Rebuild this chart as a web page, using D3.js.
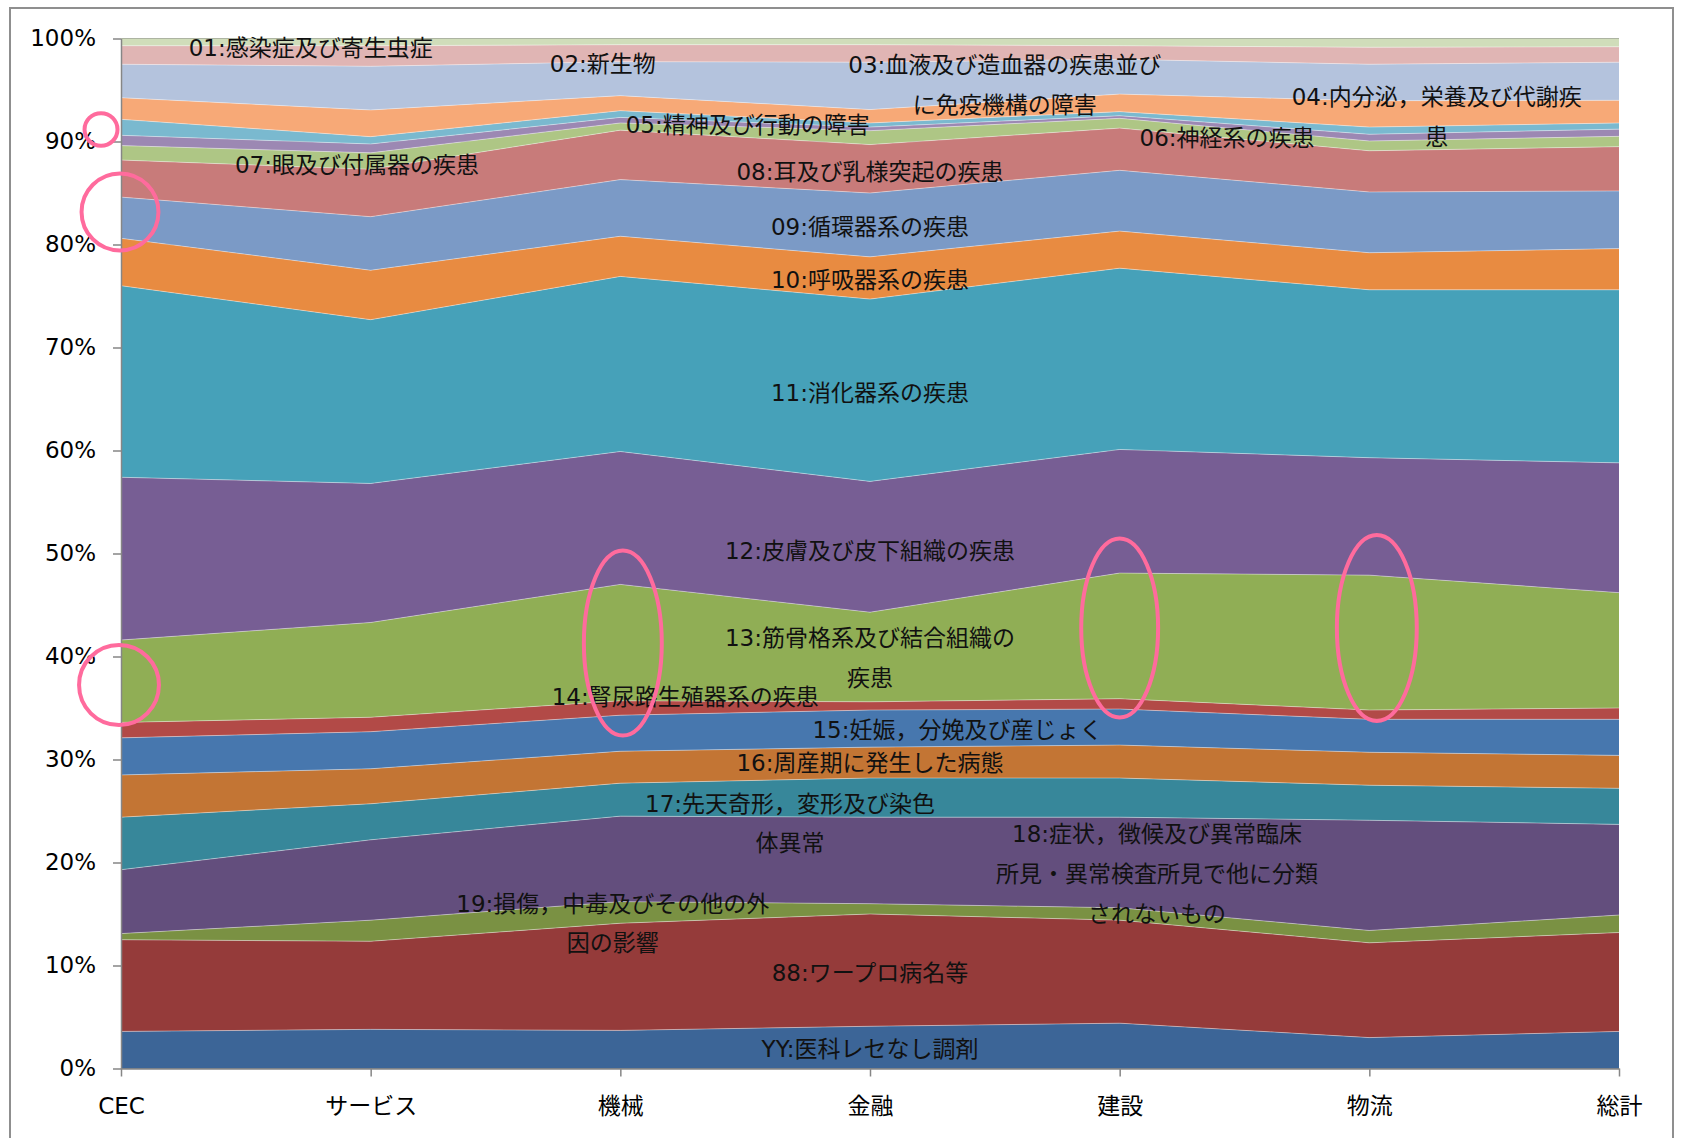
<!DOCTYPE html>
<html lang="ja">
<head>
<meta charset="utf-8">
<title>業態別 疾病分類構成比</title>
<script src="https://cdn.jsdelivr.net/npm/d3@7"></script>
<style>
  html, body { margin: 0; padding: 0; background: #ffffff; }
  svg { display: block; }
  text { font-family: "DejaVu Sans", "Noto Sans CJK JP", sans-serif; }
</style>
</head>
<body>
<svg id="chart" width="1681" height="1138"></svg>
<script>
// ---- data -------------------------------------------------------------
// Industry groups along the x axis
const categories = ["CEC", "サービス", "機械", "金融", "建設", "物流", "総計"];

// Share (%) of each disease class per group, stacked bottom → top
const vYY = [3.6, 3.8, 3.7, 4.1, 4.4, 3.0, 3.6];
const v88 = [8.9, 8.55, 10.4, 10.9, 10.0, 9.2, 9.6];
const v19 = [0.6, 2.05, 2.1, 1.0, 1.2, 1.2, 1.7];
const v18 = [6.2, 7.8, 8.3, 8.4, 8.8, 10.7, 8.8];
const v17 = [5.1, 3.5, 3.2, 3.8, 3.8, 3.4, 3.5];
const v16 = [4.1, 3.4, 3.1, 3.0, 3.2, 3.2, 3.2];
const v15 = [3.6, 3.6, 3.5, 3.6, 3.5, 3.2, 3.5];
const v14 = [1.5, 1.4, 1.4, 0.8, 1.0, 0.9, 1.1];
const v13 = [8.0, 9.2, 11.3, 8.7, 12.2, 13.1, 11.2];
const v12 = [15.8, 13.5, 12.9, 12.7, 12.0, 11.4, 12.6];
const v11 = [18.6, 15.9, 17.0, 17.7, 17.6, 16.3, 16.8];
const v10 = [4.6, 4.8, 3.9, 4.1, 3.6, 3.6, 4.0];
const v09 = [4.0, 5.2, 5.5, 6.2, 5.9, 5.9, 5.6];
const v08 = [3.6, 4.6, 4.8, 4.7, 4.1, 4.0, 4.3];
const v07 = [1.4, 1.6, 0.7, 1.35, 0.95, 0.95, 1.0];
const v06 = [1.0, 0.86, 0.54, 0.35, 0.25, 0.65, 0.7];
const v05 = [1.55, 0.71, 0.65, 0.4, 0.4, 0.7, 0.6];
const v04 = [2.1, 2.59, 1.46, 1.3, 1.7, 2.56, 2.2];
const v03 = [3.25, 4.24, 3.3, 4.6, 3.38, 3.54, 3.7];
const v02 = [1.8, 2.0, 1.65, 1.7, 1.32, 1.65, 1.5];
const v01 = [0.7, 0.7, 0.6, 0.6, 0.7, 0.85, 0.8];

const seriesKeys = ["YY", "88", "19", "18", "17", "16", "15", "14", "13", "12", "11",
                    "10", "09", "08", "07", "06", "05", "04", "03", "02", "01"];
const seriesValues = [vYY, v88, v19, v18, v17, v16, v15, v14, v13, v12, v11,
                      v10, v09, v08, v07, v06, v05, v04, v03, v02, v01];

// Series names, split into the lines they are printed on
const seriesNames = [
  ["YY:医科レセなし調剤"],
  ["88:ワープロ病名等"],
  ["19:損傷，中毒及びその他の外", "因の影響"],
  ["18:症状，徴候及び異常臨床", "所見・異常検査所見で他に分類", "されないもの"],
  ["17:先天奇形，変形及び染色", "体異常"],
  ["16:周産期に発生した病態"],
  ["15:妊娠，分娩及び産じょく"],
  ["14:腎尿路生殖器系の疾患"],
  ["13:筋骨格系及び結合組織の", "疾患"],
  ["12:皮膚及び皮下組織の疾患"],
  ["11:消化器系の疾患"],
  ["10:呼吸器系の疾患"],
  ["09:循環器系の疾患"],
  ["08:耳及び乳様突起の疾患"],
  ["07:眼及び付属器の疾患"],
  ["06:神経系の疾患"],
  ["05:精神及び行動の障害"],
  ["04:内分泌，栄養及び代謝疾", "患"],
  ["03:血液及び造血器の疾患並び", "に免疫機構の障害"],
  ["02:新生物"],
  ["01:感染症及び寄生虫症"]
];

// Where each series name sits: position along the category axis and share value
const labelCat   = [3, 3, 1.97, 4.15, 2.68, 3, 3.35, 2.26, 3, 3, 3,
                    3, 3, 3, 0.945, 4.43, 2.51, 5.27, 3.54, 1.93, 0.76];
const labelShare = [0.019, 0.093, 0.141, 0.189, 0.238, 0.297, 0.329, 0.361, 0.399, 0.503, 0.656,
                    0.766, 0.817, 0.871, 0.877, 0.904, 0.916, 0.924, 0.955, 0.976, 0.991];

// Highlight rings: centre (category position, share) and half extents
const ringCat    = [-0.08, -0.004, -0.008, 2.01, 4.0, 5.03];
const ringShare  = [0.9117, 0.8316, 0.3723, 0.413, 0.4277, 0.4277];
const ringHalfW  = [0.066, 0.154, 0.16, 0.156, 0.154, 0.16];
const ringHalfH  = [0.0158, 0.0374, 0.0388, 0.0898, 0.0869, 0.0903];

// y axis ticks
const yTicks = [0, 0.1, 0.2, 0.3, 0.4, 0.5, 0.6, 0.7, 0.8, 0.9, 1.0];

// ---- palette ----------------------------------------------------------
const seriesColors = [
  "#3c6597", "#953b3a", "#7a9143", "#634e7d", "#37879a", "#c37534", "#4777ae",
  "#b24a47", "#90ae55", "#775e94", "#46a1b9", "#e88b41", "#7b9ac6", "#c87b7a",
  "#aec685", "#9c88b3", "#7ab9cf", "#f7a977", "#b4c3dd", "#e0b5b4", "#d0ddba"
];

// ---- layout -----------------------------------------------------------
const W = 1681, H = 1138;
const margin = { top: 38.5, right: 62, bottom: 69.5, left: 121 };
const plotW = W - margin.left - margin.right;
const plotH = H - margin.top - margin.bottom;

const svg = d3.select("#chart");

// chart frame
svg.append("rect")
  .attr("x", 10).attr("y", 8)
  .attr("width", 1663).attr("height", 1150)
  .attr("fill", "#ffffff")
  .attr("stroke", "#8f8f8f")
  .attr("stroke-width", 2);

const g = svg.append("g").attr("transform", `translate(${margin.left},${margin.top})`);

const x = d3.scalePoint().domain(categories).range([0, plotW]);
const xPos = d3.scaleLinear().domain([0, categories.length - 1]).range([0, plotW]);
const y = d3.scaleLinear().domain([0, 1]).range([plotH, 0]);
const color = d3.scaleOrdinal().domain(seriesKeys).range(seriesColors);

// one row per category
const table = categories.map((cat, ci) => {
  const row = { cat };
  seriesKeys.forEach((k, si) => { row[k] = seriesValues[si][ci]; });
  return row;
});

const stacked = d3.stack()
  .keys(seriesKeys)
  .offset(d3.stackOffsetExpand)(table);

// gridlines sit behind the areas
g.append("g")
  .selectAll("line")
  .data(yTicks)
  .join("line")
  .attr("x1", 0).attr("x2", plotW)
  .attr("y1", d => y(d)).attr("y2", d => y(d))
  .attr("stroke", "#8a8a8a")
  .attr("stroke-width", 1.2);

const area = d3.area()
  .x(d => x(d.data.cat))
  .y0(d => y(d[0]))
  .y1(d => y(d[1]));

g.append("g")
  .selectAll("path")
  .data(stacked)
  .join("path")
  .attr("d", area)
  .attr("fill", d => color(d.key));

// thin light seams between neighbouring bands
const seam = d3.line()
  .x(d => x(d.data.cat))
  .y(d => y(d[1]));

g.append("g")
  .selectAll("path")
  .data(stacked.slice(0, -1))
  .join("path")
  .attr("d", seam)
  .attr("fill", "none")
  .attr("stroke", "#ffffff")
  .attr("stroke-opacity", 0.4)
  .attr("stroke-width", 1);

// ---- axes ---------------------------------------------------------------
const yAxis = g.append("g")
  .call(d3.axisLeft(y)
    .tickValues(yTicks)
    .tickFormat(d3.format(".0%"))
    .tickSize(8)
    .tickSizeOuter(0)
    .tickPadding(17));

const xAxis = g.append("g")
  .attr("transform", `translate(0,${plotH})`)
  .call(d3.axisBottom(x)
    .tickSize(8)
    .tickSizeOuter(0)
    .tickPadding(21));

[yAxis, xAxis].forEach(ax => {
  ax.select(".domain").attr("stroke", "#868686").attr("stroke-width", 1.5);
  ax.selectAll(".tick line").attr("stroke", "#868686").attr("stroke-width", 1.5);
  ax.selectAll(".tick text")
    .attr("fill", "#000000")
    .attr("font-size", 23)
    .style("font-family", "\"DejaVu Sans\", \"Noto Sans CJK JP\", sans-serif");
});

// ---- series name labels -----------------------------------------------
const fontSize = 23;
const lineH = 39.7;

const labelG = g.append("g")
  .attr("font-size", fontSize)
  .attr("fill", "#111111")
  .attr("text-anchor", "middle");

seriesNames.forEach((lines, i) => {
  const cx = xPos(labelCat[i]);
  const cy = y(labelShare[i]) - (lines.length - 1) * lineH / 2;
  const t = labelG.append("text").attr("x", cx).attr("y", cy);
  lines.forEach((ln, j) => {
    t.append("tspan")
      .attr("x", cx)
      .attr("dy", j === 0 ? "0.36em" : lineH)
      .text(ln);
  });
});

// ---- highlight rings ----------------------------------------------------
g.append("g")
  .selectAll("ellipse")
  .data(ringCat.map((c, i) => ({ c, s: ringShare[i], hw: ringHalfW[i], hh: ringHalfH[i] })))
  .join("ellipse")
  .attr("cx", d => xPos(d.c))
  .attr("cy", d => y(d.s))
  .attr("rx", d => xPos(d.c + d.hw) - xPos(d.c))
  .attr("ry", d => y(d.s - d.hh) - y(d.s))
  .attr("fill", "none")
  .attr("stroke", "#ff6b9d")
  .attr("stroke-width", 4);
</script>
</body>
</html>
